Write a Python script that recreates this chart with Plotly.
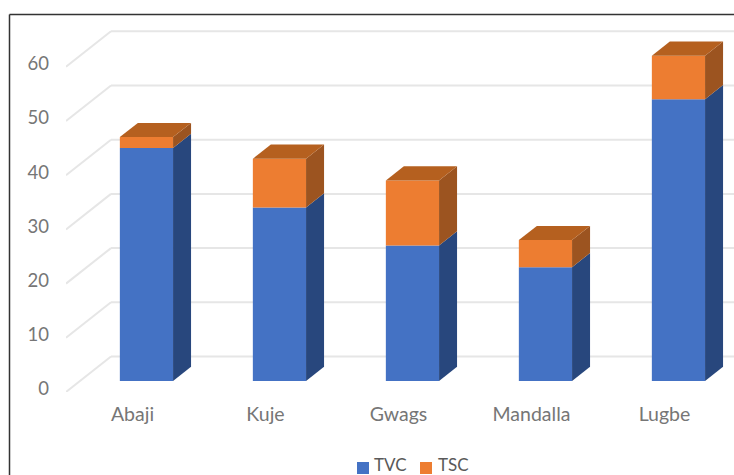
import plotly.graph_objects as go

# Site readings
sites = ["Abaji", "Kuje", "Gwags", "Mandalla", "Lugbe"]
tvc = [43, 32, 25, 21, 52]
tsc = [2, 9, 12, 5, 8]
y_ticks = [0, 10, 20, 30, 40, 50, 60]

BLUE, BLUE_SIDE = "#4472C4", "#28477D"
ORANGE, ORANGE_SIDE, ORANGE_TOP = "#ED7D31", "#9C5420", "#B5601F"
GRID = "#E6E6E6"
TICK_TEXT = "#767676"
LEGEND_TEXT = "#595959"
FONT = "Lato"

# Plot rectangle in page pixels
WIDTH, HEIGHT = 734, 475
LEFT, TOP, BOTTOM = 66, 14, 392
CATEGORY_PX = 133.0
UNIT_PX = 5.42

# Oblique projection: one full depth step in data units of each axis
DEPTH_X = 45 / CATEGORY_PX
DEPTH_Y = 35.5 / UNIT_PX
BAR_NEAR, BAR_FAR = 0.31, 0.71
BAR_WIDTH = 0.4


def project(x, y, depth):
    return x + depth * DEPTH_X, y + depth * DEPTH_Y


def paper_x(px):
    return (px - LEFT) / (WIDTH - LEFT)


def paper_y(px):
    return (BOTTOM - px) / (BOTTOM - TOP)


def face(points, color):
    xs, ys = zip(*points)
    return go.Scatter(
        x=list(xs) + [xs[0]], y=list(ys) + [ys[0]],
        mode="lines", fill="toself", fillcolor=color,
        line=dict(width=0, color=color),
        hoverinfo="skip", showlegend=False,
    )


fig = go.Figure()

# Front faces of the stacked columns
front_x = [project(i, 0, BAR_NEAR)[0] for i in range(len(sites))]
near_base = project(0, 0, BAR_NEAR)[1]
fig.add_bar(x=front_x, y=tvc, base=[near_base] * len(sites), width=BAR_WIDTH,
            marker=dict(color=BLUE, line=dict(width=0)), name="TVC", showlegend=False)
fig.add_bar(x=front_x, y=tsc, base=[near_base + v for v in tvc], width=BAR_WIDTH,
            marker=dict(color=ORANGE, line=dict(width=0)), name="TSC", showlegend=False)

# Right side and top faces
for i in range(len(sites)):
    right = i + BAR_WIDTH / 2
    left = i - BAR_WIDTH / 2
    levels = [0, tvc[i], tvc[i] + tsc[i]]
    for low, high, color in [(levels[0], levels[1], BLUE_SIDE), (levels[1], levels[2], ORANGE_SIDE)]:
        fig.add_trace(face([
            project(right, low, BAR_NEAR), project(right, high, BAR_NEAR),
            project(right, high, BAR_FAR), project(right, low, BAR_FAR),
        ], color))
    top = levels[2]
    fig.add_trace(face([
        project(left, top, BAR_NEAR), project(right, top, BAR_NEAR),
        project(right, top, BAR_FAR), project(left, top, BAR_FAR),
    ], ORANGE_TOP))

# Side wall and back wall gridlines, kept behind the columns
x_start = -0.5
x_end = x_start + len(sites)
shapes = []
for v in y_ticks:
    back_left = project(x_start, v, 1)
    back_right = project(x_end, v, 1)
    for a, b in [((x_start, v), back_left), (back_left, back_right)]:
        shapes.append(dict(type="line", xref="x", yref="y", layer="below",
                           x0=a[0], y0=a[1], x1=b[0], y1=b[1],
                           line=dict(color=GRID, width=2)))

# Frame of the chart area, open towards the page edges
FRAME = dict(color="#333333", width=1.5)
shapes.append(dict(type="line", xref="paper", yref="paper",
                   x0=paper_x(9.5), x1=paper_x(9.5), y0=paper_y(14.5), y1=paper_y(480), line=FRAME))
shapes.append(dict(type="line", xref="paper", yref="paper",
                   x0=paper_x(9.5), x1=paper_x(740), y0=paper_y(14.5), y1=paper_y(14.5), line=FRAME))

# Legend keys and labels
annotations = []
for name, color, box_left, text_left in [("TVC", BLUE, 357, 372), ("TSC", ORANGE, 420, 436)]:
    shapes.append(dict(type="rect", xref="paper", yref="paper",
                       x0=paper_x(box_left), x1=paper_x(box_left + 12),
                       y0=paper_y(462), y1=paper_y(474),
                       fillcolor=color, line=dict(width=0)))
    annotations.append(dict(text=name, xref="paper", yref="paper",
                            x=paper_x(text_left), y=paper_y(464.5),
                            xanchor="left", yanchor="middle", showarrow=False,
                            font=dict(family=FONT, size=17, color=LEGEND_TEXT)))

fig.update_layout(
    width=WIDTH, height=HEIGHT, autosize=False,
    margin=dict(l=LEFT, r=0, t=TOP, b=HEIGHT - BOTTOM, pad=0),
    paper_bgcolor="white", plot_bgcolor="white",
    barmode="overlay", showlegend=False,
    shapes=shapes, annotations=annotations,
    xaxis=dict(range=[x_start, x_start + (WIDTH - LEFT) / CATEGORY_PX],
               tickmode="array", tickvals=list(range(len(sites))), ticktext=sites,
               showgrid=False, zeroline=False, showline=False, ticks="",
               ticklabelstandoff=8,
               tickfont=dict(family=FONT, size=19.5, color=TICK_TEXT)),
    yaxis=dict(range=[0, (BOTTOM - TOP) / UNIT_PX],
               tickmode="array", tickvals=y_ticks,
               showgrid=False, zeroline=False, showline=False, ticks="",
               ticklabelstandoff=16, ticklabelshift=-3,
               tickfont=dict(family=FONT, size=18.5, color=TICK_TEXT)),
)

fig.write_html("out.html")
